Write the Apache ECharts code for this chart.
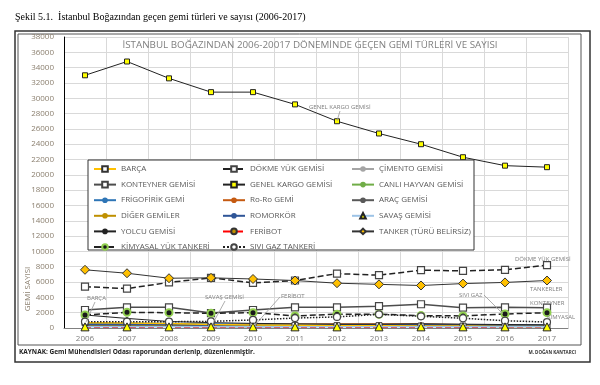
<!DOCTYPE html>
<html><head><meta charset="utf-8">
<script src="https://cdn.jsdelivr.net/npm/echarts@6/dist/echarts.min.js"></script>
<style>html,body{margin:0;padding:0;background:#fff}#c{width:600px;height:385px}</style>
</head><body><div id="c"></div>
<script>
const years = ['2006','2007','2008','2009','2010','2011','2012','2013','2014','2015','2016','2017'];
const yTicks = [0,2000,4000,6000,8000,10000,12000,14000,16000,18000,20000,22000,24000,26000,28000,30000,32000,34000,36000,38000];
const barca       = [700,650,600,450,400,350,300,300,250,250,200,200];
const dokmeYuk    = [5400,5150,5950,6550,5900,6200,7100,6900,7550,7450,7600,8200];
const cimento     = [350,350,300,250,250,250,250,250,250,200,200,200];
const konteyner   = [2350,2700,2700,1950,2350,2700,2700,2850,3100,2650,2700,2650];
const genelKargo  = [33000,34800,32600,30800,30800,29200,27000,25400,24000,22300,21200,21000];
const canliHayvan = [300,300,250,200,200,250,250,250,250,300,300,300];
const frigofirik  = [650,600,550,500,450,400,400,350,350,300,300,250];
const roro        = [300,300,350,350,450,450,500,500,500,400,350,300];
const arac        = [250,250,250,200,200,200,250,250,250,250,250,250];
const diger       = [300,300,300,250,250,250,300,300,300,250,250,250];
const romorkor    = [450,450,450,400,400,400,400,400,400,350,350,350];
const savas       = [150,150,150,150,150,150,150,150,150,150,150,150];
const yolcu       = [1700,1250,850,700,600,550,500,500,550,500,450,400];
const feribot     = [100,100,100,100,100,100,100,100,100,100,100,100];
const tanker      = [7600,7150,6500,6550,6400,6200,5850,5700,5550,5800,5950,6200];
const kimyasal    = [1700,2050,2000,1920,2000,1580,1800,1800,1620,1580,1830,2000];
const siviGaz     = [820,820,820,870,1050,1300,1450,1780,1530,1270,950,780];

const names = {
  barca:'BARÇA', dokme:'DÖKME YÜK GEMİSİ', cimento:'ÇİMENTO GEMİSİ', konteyner:'KONTEYNER GEMİSİ',
  genel:'GENEL KARGO GEMİSİ', canli:'CANLI HAYVAN GEMİSİ', frigo:'FRİGOFİRİK GEMİ', roro:'Ro-Ro GEMİ',
  arac:'ARAÇ GEMİSİ', diger:'DİĞER GEMİLER', romorkor:'ROMORKÖR', savas:'SAVAŞ GEMİSİ',
  yolcu:'YOLCU GEMİSİ', feribot:'FERİBOT', tanker:'TANKER (TÜRÜ BELİRSİZ)', kimyasal:'KİMYASAL YÜK TANKERİ', sivi:'SIVI GAZ TANKERİ'
};

function s(name, data, lineColor, lineType, lineWidth, symbol, size, fill, border, bw, z){
  return {name, type:'line', data, symbol, symbolSize:size, showSymbol:true,
    lineStyle:{color:lineColor, type:lineType, width:lineWidth},
    itemStyle:{color:fill, borderColor:border, borderWidth:bw},
    z:z||2, animation:false, emphasis:{disabled:true}};
}

const series = [
  s(names.barca, barca, '#ffc000', 'solid', 1.5, 'rect', 6, '#fff', '#333', 1, 3),
  s(names.dokme, dokmeYuk, '#222', 'dashed', 1.5, 'rect', 7, '#fff', '#444', 1.2, 4),
  s(names.cimento, cimento, '#a5a5a5', 'solid', 1.5, 'circle', 4, '#a5a5a5', '#a5a5a5', 0, 2),
  s(names.konteyner, konteyner, '#4d4d4d', 'solid', 1.5, 'rect', 7, '#fff', '#444', 1.2, 4),
  s(names.genel, genelKargo, '#222', 'solid', 1, 'rect', 5, '#ffff00', '#222', 1, 4),
  s(names.canli, canliHayvan, '#70ad47', 'solid', 1.5, 'circle', 4, '#70ad47', '#70ad47', 0, 2),
  s(names.frigo, frigofirik, '#2e75b6', 'solid', 2, 'circle', 4, '#2e75b6', '#2e75b6', 0, 2),
  s(names.roro, roro, '#c55a11', 'solid', 2, 'circle', 4, '#c55a11', '#c55a11', 0, 2),
  s(names.arac, arac, '#595959', 'solid', 1.5, 'circle', 4, '#595959', '#595959', 0, 2),
  s(names.diger, diger, '#bf9000', 'solid', 1.5, 'circle', 4, '#bf9000', '#bf9000', 0, 2),
  s(names.romorkor, romorkor, '#2f5597', 'solid', 2, 'circle', 4, '#2f5597', '#2f5597', 0, 2),
  s(names.savas, savas, '#9dc3e6', 'solid', 1.5, 'triangle', 8, '#ffff00', '#222', 1, 5),
  s(names.yolcu, yolcu, '#222', 'solid', 1, 'circle', 3, '#222', '#222', 0, 2),
  s(names.feribot, feribot, '#ff0000', 'dashed', 1.5, 'circle', 4, '#bf9000', '#333', 0.5, 2),
  s(names.tanker, tanker, '#333', 'solid', 1, 'diamond', 9, '#ffc000', '#333', 1, 4),
  s(names.kimyasal, kimyasal, '#222', 'dashed', 1.5, 'circle', 7, '#1a1a1a', '#92d050', 2, 4),
  s(names.sivi, siviGaz, '#222', 'dotted', 1.5, 'circle', 7, '#fff', '#444', 1.2, 4)
];

const legBase = {orient:'vertical', itemWidth:22, itemHeight:7, itemGap:7.6, z:20,
  textStyle:{fontFamily:'Open Sans', fontSize:8, color:'#595959'},
  selectedMode:false, padding:0};

const ann = (x,y,t) => ({type:'text', left:x, top:y, silent:true, z:10,
  style:{text:t, fontFamily:'Open Sans', fontSize:6, fill:'#7f7f7f'}});
const ln = (x1,y1,x2,y2) => ({type:'line', silent:true, z:10, shape:{x1,y1,x2,y2}, style:{stroke:'#999', lineWidth:0.8}});

const chart = echarts.init(document.getElementById('c'), null, {renderer:'canvas'});
chart.setOption({
  animation:false,
  backgroundColor:'#fff',
  title:{text:'İSTANBUL BOĞAZINDAN 2006-20017 DÖNEMİNDE GEÇEN GEMİ TÜRLERİ VE SAYISI',
    left:305, textAlign:'center', top:35,
    textStyle:{fontFamily:'Open Sans', fontSize:9.8, fontWeight:'normal', color:'#808080'}},
  grid:{left:64, right:32, top:37, bottom:57},
  xAxis:{type:'category', data:years, boundaryGap:true,
    axisLine:{lineStyle:{color:'#808080'}}, axisTick:{show:false},
    axisLabel:{fontFamily:'Open Sans', fontSize:8, color:'#808080', margin:7},
    splitLine:{show:true, lineStyle:{color:'#d9d9d9'}}},
  yAxis:{type:'value', min:yTicks[0], max:yTicks[yTicks.length-1], interval:2000,
    axisLine:{show:true, lineStyle:{color:'#000', width:1}}, axisTick:{show:false},
    axisLabel:{fontFamily:'Open Sans', fontSize:8, color:'#8c8070', margin:10, formatter:v => String(v)},
    splitLine:{lineStyle:{color:'#d9d9d9'}}},
  legend:[
    Object.assign({}, legBase, {left:93, top:165, data:[names.barca,names.konteyner,names.frigo,names.diger,names.yolcu,names.kimyasal]}),
    Object.assign({}, legBase, {left:222, top:165, data:[names.dokme,names.genel,names.roro,names.romorkor,names.feribot,names.sivi]}),
    Object.assign({}, legBase, {left:351, top:165, data:[names.cimento,names.canli,names.arac,names.savas,names.tanker]})
  ],
  graphic:[
    {type:'rect', silent:true, shape:{x:15,y:31,width:575,height:331}, style:{fill:null, stroke:'#333', lineWidth:1.5}, z:-1},
    {type:'rect', silent:true, shape:{x:18,y:34,width:563,height:311}, style:{fill:null, stroke:'#555', lineWidth:1}, z:-1},
    {type:'rect', silent:true, shape:{x:88,y:160,width:386,height:90}, style:{fill:'#fff', stroke:'#333', lineWidth:1}, z:6},
    {type:'text', left:15, top:12, silent:true, style:{text:'Şekil 5.1.  İstanbul Boğazından geçen gemi türleri ve sayısı (2006-2017)', fontFamily:'Liberation Serif', fontSize:10, fill:'#000'}},
    {type:'text', left:19, top:349, silent:true, style:{text:'KAYNAK: Gemi Mühendisleri Odası raporundan derlenip, düzenlenmiştir.', fontFamily:'Open Sans', fontSize:6.5, fontWeight:'bold', fill:'#222'}},
    {type:'text', right:24, top:350, silent:true, style:{text:'M. DOĞAN KANTARCI', fontFamily:'Open Sans', fontSize:4.5, fontWeight:'bold', fill:'#333'}},
    {type:'text', x:28, y:289, rotation:Math.PI/2, silent:true, style:{text:'GEMİ SAYISI', x:0, y:0, align:'center', verticalAlign:'middle', fontFamily:'Open Sans', fontSize:8, fill:'#8c8070'}},
    ann(309,104,'GENEL KARGO GEMİSİ'), ln(340,111,337,121),
    ann(515,256,'DÖKME YÜK GEMİSİ'),
    ann(530,286,'TANKERLER'),
    ann(530,300,'KONTEYNER'),
    ann(547,314,'KİMYASAL'),
    ann(459,292,'SIVI GAZ'), ln(484,295,503,314),
    ann(87,295,'BARÇA'), ln(95,302,86,322),
    ann(205,294,'SAVAŞ GEMİSİ'), ln(225,301,212,325),
    ann(281,293,'FERİBOT'), ln(280,297,255,325)
  ],
  series
});
</script></body></html>
